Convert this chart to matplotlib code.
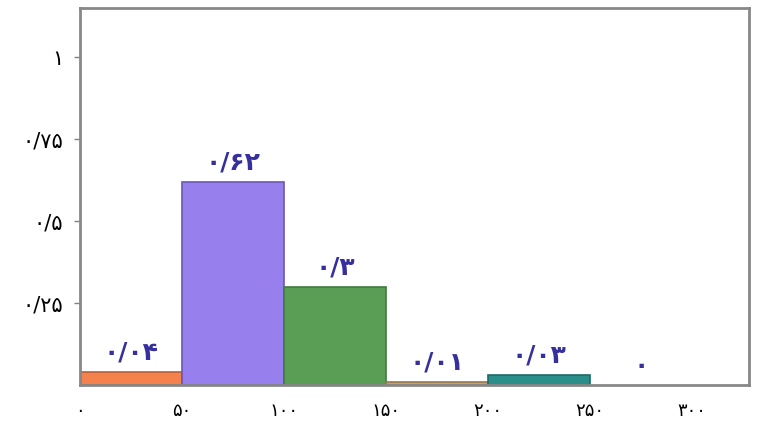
import numpy as np
import matplotlib.pyplot as plt

# histogram data (bin edges every 50)
bin_left = [0, 50, 100, 150, 200, 250]
freq = [0.04, 0.62, 0.3, 0.01, 0.03, 0.0]
bar_labels = ["۰/۰۴", "۰/۶۲", "۰/۳", "۰/۰۱", "۰/۰۳", "۰"]
bar_colors = ["#f5814c", "#9780ee", "#5a9e56", "#c9a066", "#2b8f89", "#ffffff"]
edge_colors = ["#b8603a", "#6a58b0", "#3f7a40", "#9a7848", "#1d6a66", "#ffffff"]

xticks = [0, 50, 100, 150, 200, 250, 300]
xtick_labels = ["۰", "۵۰", "۱۰۰", "۱۵۰", "۲۰۰", "۲۵۰", "۳۰۰"]
yticks = [0.25, 0.5, 0.75, 1.0]
ytick_labels = ["۰/۲۵", "۰/۵", "۰/۷۵", "۱"]

plt.rcParams['font.family'] = ['DejaVu Sans']

fig = plt.figure(figsize=(7.58, 4.24), dpi=100)
ax = fig.add_axes([0.1055, 0.092, 0.883, 0.889])

ax.bar(bin_left, freq, width=50, align='edge', color=bar_colors,
       edgecolor=edge_colors, linewidth=1.2)

for x, v, s in zip(bin_left, freq, bar_labels):
    ax.text(x + 25, v + 0.022, s, ha='center', va='bottom',
            color="#35309e", fontsize=18, fontweight='bold')

ax.set_xlim(0, 328)
ax.set_ylim(0, 1.15)

ax.set_xticks(xticks)
ax.set_xticklabels(xtick_labels, fontsize=13)
ax.tick_params(axis='x', length=0, pad=12)
ax.set_yticks(yticks)
ax.set_yticklabels(ytick_labels, fontsize=15)
ax.tick_params(axis='y', length=4, width=1, color="#808080", pad=8)

for sp in ax.spines.values():
    sp.set_color("#888888")
    sp.set_linewidth(2)

fig.savefig("out.png", dpi=100)
